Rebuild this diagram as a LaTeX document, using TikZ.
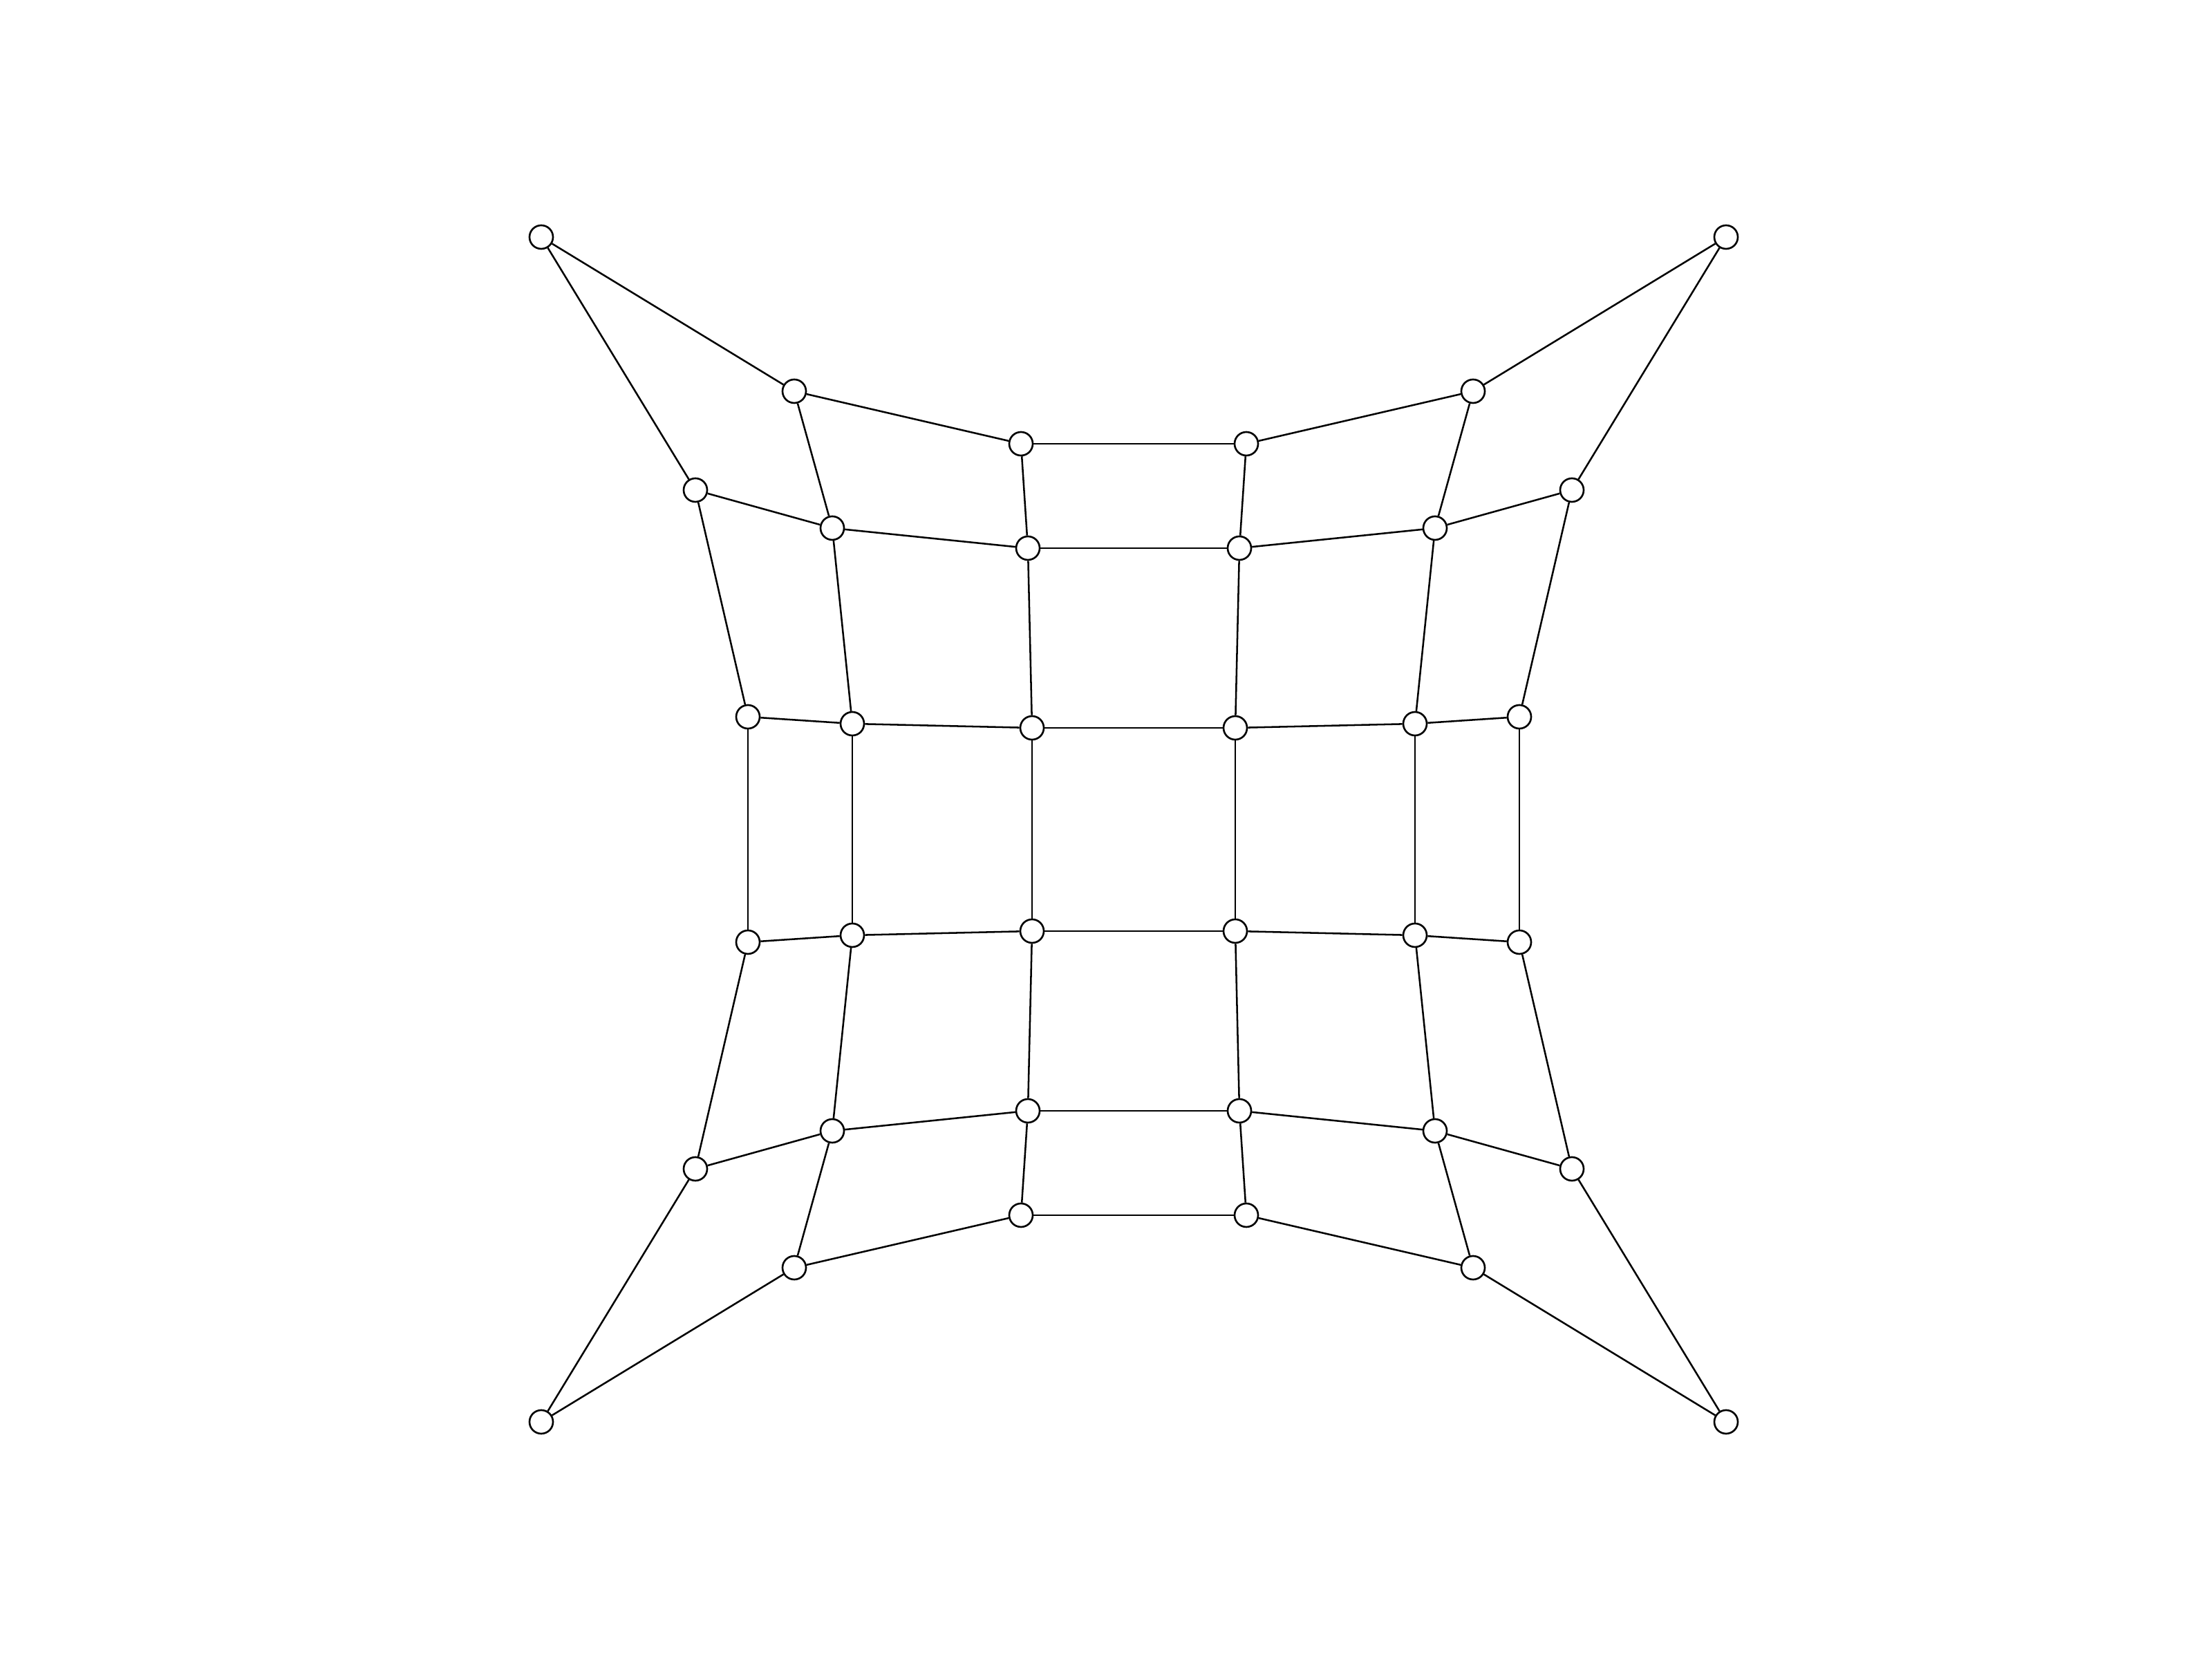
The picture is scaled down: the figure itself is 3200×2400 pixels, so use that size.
\documentclass[tikz,border=0pt]{standalone}
\begin{document}
\begin{tikzpicture}[x=0.01cm,y=0.01cm,
  vtx/.style={circle,draw=black,fill=white,line width=0.75pt,minimum size=0.34cm,inner sep=0pt},
  edge/.style={draw=black,line width=0.72pt}]
\fill[white] (0,0) rectangle (3200,2400);
\useasboundingbox (0,0) rectangle (3200,2400);
% rows j=0..5 (top to bottom), columns i=0..5
\foreach \i/\x/\y in {0/783/2057,1/1149/1834,2/1477/1758,3/1803/1758,4/2131/1834,5/2497/2057}
  \node[vtx] (n-\i-0) at (\x,\y) {};
\foreach \i/\x/\y in {0/1006/1691,1/1204/1636,2/1487/1607,3/1793/1607,4/2076/1636,5/2274/1691}
  \node[vtx] (n-\i-1) at (\x,\y) {};
\foreach \i/\x/\y in {0/1082/1363,1/1233/1353,2/1493/1347,3/1787/1347,4/2047/1353,5/2198/1363}
  \node[vtx] (n-\i-2) at (\x,\y) {};
\foreach \i/\x/\y in {0/1082/1037,1/1233/1047,2/1493/1053,3/1787/1053,4/2047/1047,5/2198/1037}
  \node[vtx] (n-\i-3) at (\x,\y) {};
\foreach \i/\x/\y in {0/1006/709,1/1204/764,2/1487/793,3/1793/793,4/2076/764,5/2274/709}
  \node[vtx] (n-\i-4) at (\x,\y) {};
\foreach \i/\x/\y in {0/783/343,1/1149/566,2/1477/642,3/1803/642,4/2131/566,5/2497/343}
  \node[vtx] (n-\i-5) at (\x,\y) {};
% horizontal edges
\foreach \j in {0,...,5}
  \foreach \i/\k in {0/1,1/2,2/3,3/4,4/5}
    \draw[edge] (n-\i-\j) -- (n-\k-\j);
% vertical edges
\foreach \i in {0,...,5}
  \foreach \j/\k in {0/1,1/2,2/3,3/4,4/5}
    \draw[edge] (n-\i-\j) -- (n-\i-\k);
\end{tikzpicture}
\end{document}
